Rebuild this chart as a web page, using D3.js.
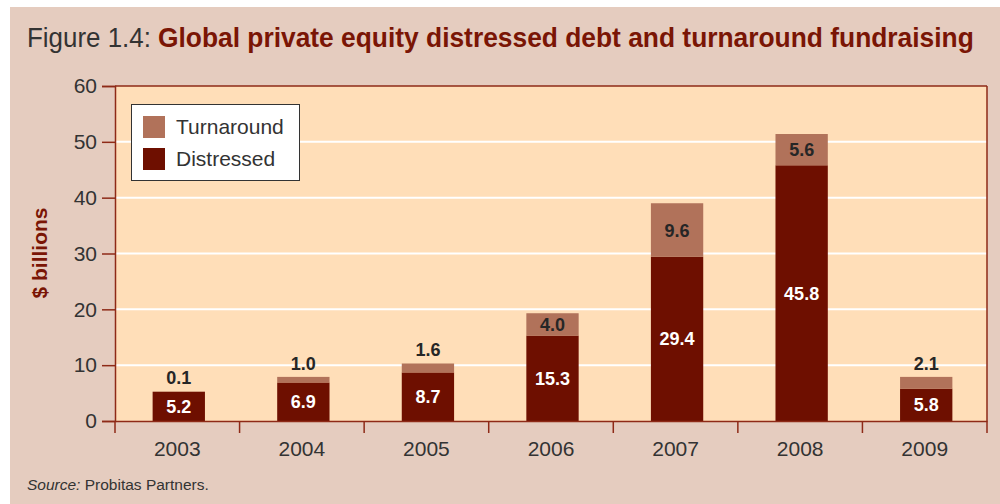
<!DOCTYPE html>
<html><head><meta charset="utf-8">
<script src="https://cdn.jsdelivr.net/npm/d3@7"></script>
<style>body{margin:0;background:#fff}svg{display:block}</style>
</head><body>
<svg id="c" width="1000" height="504"></svg>
<script>
const years = ["2003","2004","2005","2006","2007","2008","2009"];
const distressed = [5.2, 6.9, 8.7, 15.3, 29.4, 45.8, 5.8];
const turnaround = [0.1, 1.0, 1.6, 4.0, 9.6, 5.6, 2.1];
const yTicks = [0, 10, 20, 30, 40, 50, 60];
const seriesNames = ["Turnaround", "Distressed"];

const svg = d3.select("#c");
const W = 1000, H = 504;
const m = {left:115, right:987, top:86, bottom:421};
const font = "'Liberation Sans', Arial, sans-serif";

svg.append("rect").attr("x",10).attr("y",7).attr("width",W-10).attr("height",H-7).attr("fill","#E5CCBF");

// title (horizontally condensed via scale)
function fitText(xPos, yPos, width, txt, weight, color){
  const g = svg.append("g");
  const t = g.append("text").attr("font-family",font).attr("font-size",28)
    .attr("font-weight",weight).attr("fill",color).text(txt);
  const len = t.node().getComputedTextLength();
  g.attr("transform",`translate(${xPos},${yPos}) scale(${width/len},1)`);
}
fitText(27, 47, 124, "Figure 1.4:", "normal", "#333");
fitText(158, 47, 816, "Global private equity distressed debt and turnaround fundraising", "bold", "#7A1505");

const x = d3.scaleBand().domain(years).range([m.left, m.right]).paddingInner(0.58).paddingOuter(0.29);
const xb = d3.scaleBand().domain(years).range([m.left, m.right]);
const y = d3.scaleLinear().domain([0,60]).range([m.bottom, m.top]);

svg.append("rect").attr("x",m.left).attr("y",m.top).attr("width",m.right-m.left).attr("height",m.bottom-m.top)
  .attr("fill","#FFDEB8");

// gridlines
svg.append("g").selectAll("line").data(yTicks.filter(t=>t>0 && t<60)).join("line")
  .attr("x1",m.left).attr("x2",m.right).attr("y1",d=>y(d)).attr("y2",d=>y(d))
  .attr("stroke","#fff").attr("stroke-width",2);

// bars
const data = years.map((yr,i)=>({yr, d:distressed[i], t:turnaround[i]}));
svg.append("g").selectAll("rect").data(data).join("rect")
  .attr("x",d=>x(d.yr)+1.5).attr("width",x.bandwidth())
  .attr("y",d=>y(d.d)).attr("height",d=>y(0)-y(d.d)).attr("fill","#6E0F00");
svg.append("g").selectAll("rect").data(data).join("rect")
  .attr("x",d=>x(d.yr)+1.5).attr("width",x.bandwidth())
  .attr("y",d=>y(d.d+d.t)).attr("height",d=>y(d.d)-y(d.d+d.t)).attr("fill","#B1725A");

// labels
svg.append("g").selectAll("text").data(data).join("text")
  .attr("x",d=>x(d.yr)+1.5+x.bandwidth()/2).attr("y",d=>(y(d.d)+y(0))/2)
  .attr("dy","0.36em").attr("text-anchor","middle").attr("font-family",font)
  .attr("font-weight","bold").attr("font-size",18).attr("fill","#fff").text(d=>d.d.toFixed(1));
svg.append("g").selectAll("text").data(data).join("text")
  .attr("x",d=>x(d.yr)+1.5+x.bandwidth()/2)
  .attr("y",d=>{const h=y(d.d)-y(d.d+d.t); return h>20 ? (y(d.d)+y(d.d+d.t))/2 : y(d.d+d.t)-7;})
  .attr("dy",d=>{const h=y(d.d)-y(d.d+d.t); return h>20 ? "0.36em" : "0";})
  .attr("text-anchor","middle").attr("font-family",font)
  .attr("font-weight","bold").attr("font-size",18).attr("fill","#262626").text(d=>d.t.toFixed(1));

// plot border (top/right)
const axisColor = "#8E2A17";
svg.append("line").attr("x1",m.left).attr("x2",m.right).attr("y1",m.top).attr("y2",m.top).attr("stroke",axisColor).attr("stroke-width",1.5);
svg.append("line").attr("x1",m.right).attr("x2",m.right).attr("y1",m.top).attr("y2",m.bottom+12).attr("stroke",axisColor).attr("stroke-width",1.5);

// y axis
const ya = svg.append("g").attr("transform",`translate(${m.left},0)`)
  .call(d3.axisLeft(y).tickValues(yTicks).tickSize(13).tickPadding(5));
ya.select(".domain").attr("stroke",axisColor).attr("stroke-width",1.5);
ya.selectAll(".tick line").attr("stroke",axisColor).attr("stroke-width",1.5);
ya.selectAll("text").attr("font-family",font).attr("font-size",21).attr("fill","#333");

// x axis
const xa = svg.append("g").attr("transform",`translate(0,${m.bottom})`)
  .call(d3.axisBottom(xb).tickSize(0).tickPadding(20));
xa.select(".domain").attr("stroke",axisColor).attr("stroke-width",1.5);
xa.selectAll("text").attr("font-family",font).attr("font-size",21).attr("fill","#333");
svg.append("g").selectAll("line").data(years).join("line")
  .attr("x1",d=>xb(d)).attr("x2",d=>xb(d)).attr("y1",m.bottom).attr("y2",m.bottom+12)
  .attr("stroke",axisColor).attr("stroke-width",1.5);

// y label
svg.append("text").attr("transform","translate(47,253) rotate(-90)").attr("text-anchor","middle")
  .attr("font-family",font).attr("font-weight","bold").attr("font-size",21).attr("fill","#7A1505")
  .text("$ billions");

// legend
const lg = svg.append("g");
lg.append("rect").attr("x",131.5).attr("y",104.5).attr("width",168).attr("height",76)
  .attr("fill","#fff").attr("stroke","#333").attr("stroke-width",1);
const legColors = ["#B1725A","#6E0F00"];
seriesNames.forEach((n,i)=>{
  lg.append("rect").attr("x",143).attr("y",116+i*32).attr("width",22).attr("height",22).attr("fill",legColors[i]);
  lg.append("text").attr("x",176).attr("y",134+i*32).attr("font-family",font).attr("font-size",21)
    .attr("fill","#333").text(n);
});

// source
const src = svg.append("text").attr("x",27).attr("y",490).attr("font-family",font).attr("font-size",15.5).attr("fill","#333");
src.append("tspan").attr("font-style","italic").text("Source:");
src.append("tspan").text(" Probitas Partners.");
</script>
</body></html>
